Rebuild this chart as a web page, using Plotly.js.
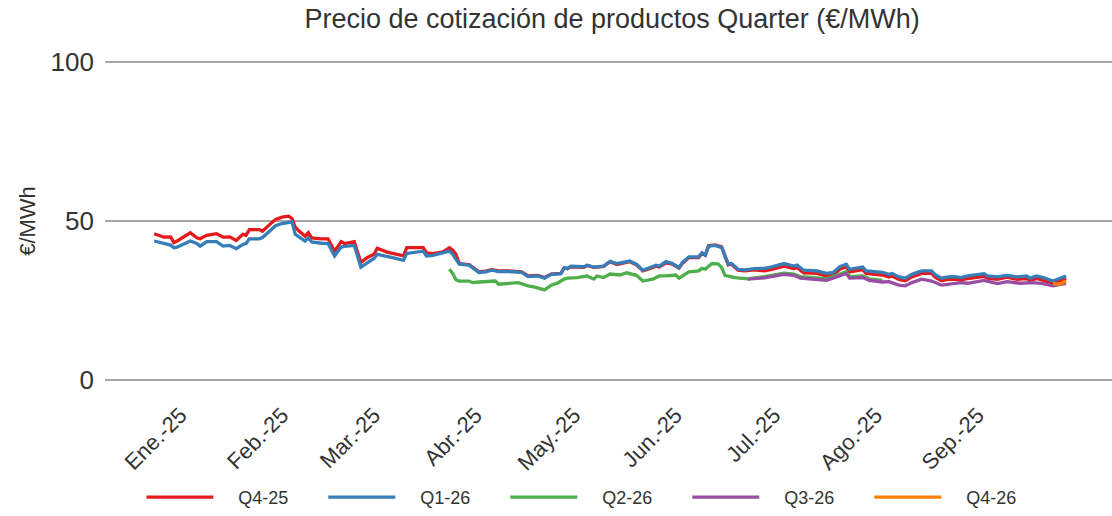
<!DOCTYPE html>
<html>
<head>
<meta charset="utf-8">
<script src="https://cdn.plot.ly/plotly-3.0.1.min.js"></script>
<style>html,body{margin:0;padding:0;background:#fff;}#chart{width:1112px;height:516px;}</style>
</head>
<body>
<div id="chart"></div>
<script>
// Shared dates for Q4-25 and Q1-26
const datesMain = [
"2024-12-24","2024-12-27","2024-12-29","2024-12-30","2024-12-31","2025-01-04","2025-01-06","2025-01-07","2025-01-09","2025-01-12",
"2025-01-14","2025-01-16","2025-01-18","2025-01-20","2025-01-21","2025-01-22","2025-01-25","2025-01-26","2025-01-28","2025-01-30",
"2025-02-01","2025-02-03","2025-02-04","2025-02-05","2025-02-06","2025-02-08","2025-02-09","2025-02-10","2025-02-13","2025-02-15",
"2025-02-17","2025-02-19","2025-02-20","2025-02-23","2025-02-25","2025-02-27","2025-03-01","2025-03-02","2025-03-05","2025-03-07",
"2025-03-10","2025-03-11","2025-03-16","2025-03-17","2025-03-19","2025-03-22","2025-03-24","2025-03-25","2025-03-26","2025-03-27",
"2025-03-30","2025-03-31","2025-04-02","2025-04-04","2025-04-06","2025-04-08","2025-04-11","2025-04-15","2025-04-17","2025-04-20",
"2025-04-22","2025-04-24","2025-04-27","2025-04-28","2025-04-29","2025-04-30","2025-05-04","2025-05-05","2025-05-07","2025-05-10",
"2025-05-12","2025-05-14","2025-05-18","2025-05-20","2025-05-22","2025-05-24","2025-05-26","2025-05-27","2025-05-29","2025-05-31",
"2025-06-02","2025-06-03","2025-06-05","2025-06-08","2025-06-09","2025-06-10","2025-06-11","2025-06-13","2025-06-15","2025-06-17",
"2025-06-18","2025-06-20","2025-06-22","2025-06-25","2025-06-28","2025-06-30","2025-07-04","2025-07-07","2025-07-08","2025-07-10",
"2025-07-14","2025-07-17","2025-07-19","2025-07-21","2025-07-23","2025-07-24","2025-07-28","2025-07-29","2025-08-01","2025-08-03",
"2025-08-05","2025-08-06","2025-08-08","2025-08-10","2025-08-12","2025-08-15","2025-08-18","2025-08-19","2025-08-21","2025-08-23",
"2025-08-25","2025-08-27","2025-08-29","2025-08-31","2025-09-03","2025-09-04","2025-09-07","2025-09-10","2025-09-13","2025-09-16",
"2025-09-17","2025-09-19","2025-09-21","2025-09-24","2025-09-26","2025-09-28"
];
const q425 = [
46.0,44.9,45.0,43.2,43.7,46.3,44.7,44.4,45.5,46.0,
44.9,45.0,43.9,45.8,45.5,47.3,47.3,46.8,48.7,50.5,
51.2,51.5,50.8,48.1,47.0,45.2,46.3,44.7,44.4,44.4,
40.5,43.5,42.9,43.5,36.9,38.5,39.5,41.4,40.2,39.7,
39.0,41.6,41.6,40.0,39.7,40.3,41.6,40.8,39.5,36.6,
36.3,35.5,34.0,34.2,34.7,34.3,34.3,34.0,32.7,32.9,
32.2,33.3,33.5,35.3,35.0,35.6,35.4,36.0,35.4,35.7,
37.2,36.3,37.2,36.2,34.3,35.0,35.8,35.5,36.8,36.4,
35.2,36.6,38.5,38.5,39.8,39.2,42.2,42.5,41.9,36.2,
36.4,34.5,34.3,34.6,34.3,34.7,35.8,35.0,35.3,33.7,
33.5,32.7,33.0,34.8,35.6,34.0,34.7,33.5,33.2,33.0,
32.4,32.7,31.6,31.2,32.4,33.5,33.5,32.4,31.2,31.6,
31.7,31.4,31.9,32.1,32.6,32.0,31.6,32.3,31.6,31.9,
31.2,31.9,31.4,30.4,31.2,31.9
];
const q126 = [
43.7,42.8,42.4,41.6,41.8,43.7,42.9,42.1,43.5,43.5,
42.1,42.3,41.3,42.6,42.9,44.4,44.4,44.8,46.8,48.5,
49.2,49.6,49.7,45.8,45.2,43.7,44.7,43.4,43.0,42.9,
39.0,41.8,42.0,42.3,35.5,36.9,38.2,39.5,38.9,38.4,
37.6,39.8,40.5,39.0,39.2,40.0,40.5,39.5,37.9,36.4,
36.1,35.3,33.8,34.0,34.5,34.1,34.1,33.8,32.5,32.7,
32.0,33.2,33.4,35.3,35.0,35.8,35.6,36.1,35.5,35.8,
37.3,36.6,37.4,36.4,34.5,35.3,36.1,35.8,37.2,36.6,
35.3,36.9,38.7,38.7,40.0,39.3,42.1,42.3,41.6,36.4,
36.6,34.8,34.6,35.0,35.1,35.5,36.6,35.8,36.1,34.5,
34.3,33.5,33.8,35.6,36.4,34.8,35.5,34.3,34.0,33.8,
33.2,33.5,32.4,32.0,33.2,34.3,34.3,33.2,32.0,32.4,
32.5,32.2,32.7,32.9,33.4,32.7,32.4,32.9,32.4,32.7,
32.0,32.7,32.2,31.1,32.0,32.7
];
const datesQ226 = [
"2025-03-24","2025-03-25","2025-03-26","2025-03-27","2025-03-30","2025-03-31","2025-04-02","2025-04-05","2025-04-07","2025-04-08",
"2025-04-11","2025-04-14","2025-04-17","2025-04-19","2025-04-22","2025-04-24","2025-04-26","2025-04-28","2025-04-29","2025-05-02",
"2025-05-05","2025-05-07","2025-05-08","2025-05-10","2025-05-12","2025-05-15","2025-05-17","2025-05-20","2025-05-22","2025-05-25",
"2025-05-27","2025-05-29","2025-06-01","2025-06-02","2025-06-05","2025-06-08","2025-06-09","2025-06-10","2025-06-12","2025-06-14",
"2025-06-15","2025-06-16","2025-06-19","2025-06-22","2025-06-23","2025-06-28","2025-07-04","2025-07-07","2025-07-09","2025-07-13",
"2025-07-17","2025-07-20","2025-07-23","2025-07-24","2025-07-28","2025-07-30","2025-08-03"
];
const q226 = [
34.8,33.5,31.5,31.1,31.1,30.6,30.8,31.1,31.1,30.1,
30.4,30.6,29.6,29.2,28.3,29.8,30.5,31.7,32.0,32.2,
32.7,31.7,32.7,32.2,33.3,33.0,33.7,32.9,31.1,31.7,
32.7,32.7,33.0,32.0,34.0,34.3,35.1,34.8,36.6,36.4,
35.3,32.9,32.2,32.0,31.8,32.5,33.6,33.3,32.5,32.2,
31.8,32.9,34.0,32.5,32.7,31.8,31.3
];
const datesQ326 = [
"2025-06-23","2025-06-28","2025-07-04","2025-07-07","2025-07-09","2025-07-13","2025-07-17","2025-07-20","2025-07-23","2025-07-24",
"2025-07-28","2025-07-30","2025-08-03","2025-08-05","2025-08-08","2025-08-10","2025-08-12","2025-08-15","2025-08-18","2025-08-21",
"2025-08-24","2025-08-27","2025-08-29","2025-09-03","2025-09-07","2025-09-10","2025-09-14","2025-09-18","2025-09-21","2025-09-24",
"2025-09-28"
];
const q326 = [
31.7,32.1,33.2,32.9,32.0,31.7,31.3,32.4,33.5,32.0,
32.2,31.3,30.8,30.9,29.8,29.6,30.6,31.7,31.1,29.8,
30.1,30.6,30.4,31.3,30.3,30.9,30.4,30.6,30.3,29.6,
30.4
];
const datesQ426 = ["2025-09-24","2025-09-26","2025-09-28"];
const q426 = [30.3,30.1,31.1];

const tickDates = ["2025-01-01","2025-02-01","2025-03-01","2025-04-01","2025-05-01","2025-06-01","2025-07-01","2025-08-01","2025-09-01"];
const tickLabels = ["Ene.-25","Feb.-25","Mar.-25","Abr.-25","May.-25","Jun.-25","Jul.-25","Ago.-25","Sep.-25"];

const seriesNames = ["Q4-25","Q1-26","Q2-26","Q3-26","Q4-26"];
const seriesColors = ["#e41a1c","#377eb8","#4daf4a","#984ea3","#ff7f00"];
const seriesX = [datesMain, datesMain, datesQ226, datesQ326, datesQ426];
const seriesY = [q425, q126, q226, q326, q426];

const FONT = '"Liberation Sans", Arial, sans-serif';
const traces = seriesNames.map((n,i)=>({
  type:'scatter', mode:'lines', name:n, x:seriesX[i], y:seriesY[i],
  line:{color:seriesColors[i], width:3.3}
}));

const layout = {
  width:1112, height:516,
  margin:{l:105, r:0, t:59, b:132},
  paper_bgcolor:'#fff', plot_bgcolor:'#fff',
  font:{family:FONT, color:'#333333'},
  title:{text:'Precio de cotización de productos Quarter (€/MWh)', font:{size:27, color:'#333333', family:FONT}, x:0.5504, xanchor:'center', y:0.965, yanchor:'middle'},
  xaxis:{type:'date', range:['2024-12-09','2025-10-12'], tickvals:tickDates, ticktext:tickLabels, tickangle:-45,
    tickfont:{size:22, color:'#333333'}, showgrid:false, zeroline:false, showline:false, ticks:'', ticklabelstandoff:14},
  yaxis:{range:[-1,101], tickvals:[0,50,100], tickfont:{size:26, color:'#333333'}, showgrid:true, gridcolor:'#a6a6a6', gridwidth:1.5,
    zeroline:false, showline:false, ticks:'', ticklabelstandoff:10,
    title:{text:'€/MWh', font:{size:22, color:'#333333'}, standoff:8}},
  showlegend:true,
  legend:{orientation:'h', x:0.041, xanchor:'left', y:-0.355, yanchor:'middle', font:{size:18, color:'#333333'},
    itemwidth:82, entrywidth:85, entrywidthmode:'pixels', traceorder:'normal'}
};

Plotly.newPlot('chart', traces, layout, {staticPlot:true, displayModeBar:false}).then(()=>{
  document.querySelectorAll('.legend .legendlines path').forEach(p=>p.setAttribute('d','M0,0h67'));
});
</script>
</body>
</html>
